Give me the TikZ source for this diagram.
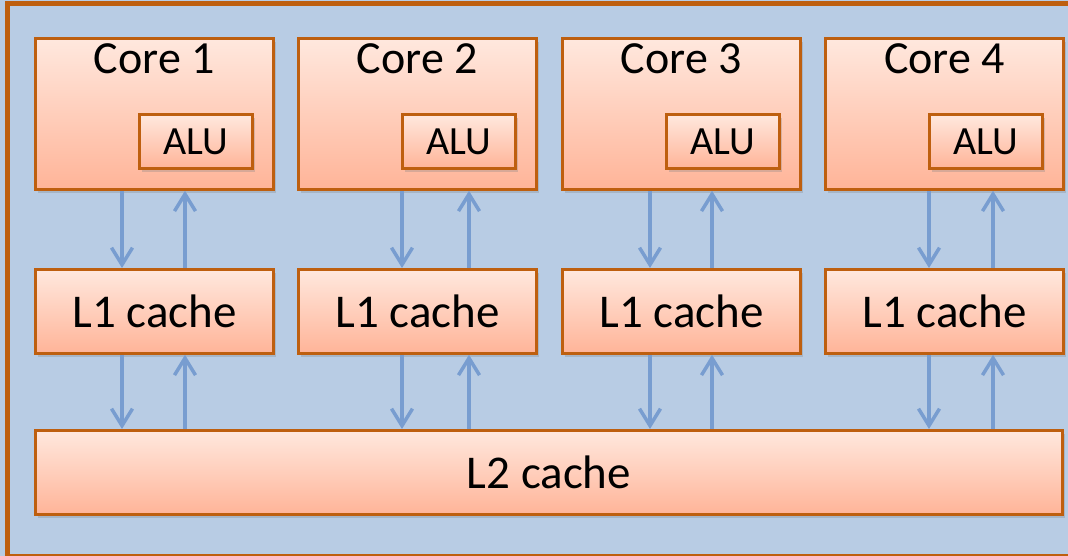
\documentclass[tikz,border=0pt]{standalone}
\usepackage{fontspec}
\setmainfont{Carlito}
\usetikzlibrary{arrows.meta,shadows,calc}
\definecolor{frameline}{RGB}{190,95,15}
\definecolor{panel}{RGB}{184,204,228}
\definecolor{boxtop}{RGB}{255,232,222}
\definecolor{boxbot}{RGB}{255,180,152}
\definecolor{flowblue}{RGB}{120,157,208}
\tikzset{
  unit/.style={draw=frameline,line width=2.8pt,top color=boxtop,bottom color=boxbot,
    drop shadow={opacity=0.3,shadow xshift=3pt,shadow yshift=-4pt},
    anchor=north west,inner sep=0pt},
  flow/.style={draw=flowblue,line width=3.5pt,-{Straight Barb[length=17pt,width=21pt,line width=3.5pt]}}
}
\begin{document}
\begin{tikzpicture}[x=1pt,y=-1pt]
  \useasboundingbox (0,0) rectangle (1068,556);
  \fill[panel] (0,0) rectangle (1068,556);
  \draw[frameline,line width=5pt] (7,4) rectangle (1080,556);
  % cores and their L1 caches
  \foreach \i/\xl/\da/\ua in {1/34/88/151,2/297/105/172,3/561/89/151,4/824/105/169}{
    \node[unit,minimum width=238pt,minimum height=151pt] (core\i) at (\xl,37) {};
    \node[font=\fontsize{46}{46}\selectfont,anchor=center] (name\i) at ($(core\i.north)+(0,22)$) {Core \i};
    \node[unit,minimum width=113pt,minimum height=54pt,font=\fontsize{40}{40}\selectfont] (alu\i) at (\xl+104,113) {ALU};
    \node[unit,minimum width=238pt,minimum height=84pt,font=\fontsize{47}{47}\selectfont] (lone\i) at (\xl,268) {L1 cache};
    \coordinate (dn\i) at (\xl+\da,0);
    \coordinate (up\i) at (\xl+\ua,0);
  }
  \node[unit,minimum width=1027pt,minimum height=84pt,font=\fontsize{47}{47}\selectfont] (ltwo) at (34,429) {L2 cache};
  % traffic between levels
  \foreach \i in {1,...,4}{
    \draw[flow] (core\i.south -| dn\i) -- (lone\i.north -| dn\i);
    \draw[flow] (lone\i.north -| up\i) -- (core\i.south -| up\i);
    \draw[flow] (lone\i.south -| dn\i) -- (ltwo.north -| dn\i);
    \draw[flow] (ltwo.north -| up\i) -- (lone\i.south -| up\i);
  }
\end{tikzpicture}
\end{document}
